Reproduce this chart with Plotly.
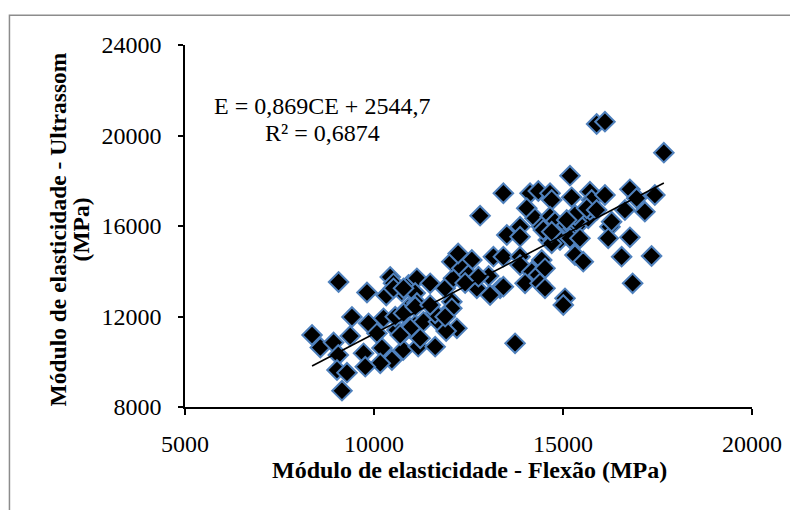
import plotly.graph_objects as go

# Flexural modulus (MPa)
flexao = [
    8361, 8580, 8931, 9372, 9063, 9814, 10324, 10429, 10516, 10913,
    11135, 11486, 10738, 11090, 9417, 9856, 10252, 10606, 10905, 11135,
    10078, 10773, 11090, 9055, 9724, 10210, 10773, 11169, 10474, 10165,
    9769, 9021, 9285, 9153, 11618, 11222, 10958, 12192, 11309, 11705,
    10561, 10781, 11618, 11090, 11486, 12059, 10516, 10781, 11882, 12102,
    12720, 13336, 13071, 12059, 12588, 13159, 12324, 12498, 10694, 13732,
    11909, 12411, 12226, 13032, 13423, 13423, 14128, 14347, 14657, 14701,
    14041, 12807, 14260, 14657, 14789, 14437, 15098, 15272, 15449, 15668,
    13864, 13513, 13864, 14612, 14921, 15185, 15449, 14701, 13864, 13864,
    14437, 15317, 15536, 12762, 14173, 14347, 14524, 13996, 14392, 13423,
    16242, 16197, 16770, 16551, 17343, 16842, 15053, 15008, 14524, 14480,
    14701, 15362, 15317, 15713, 15890, 16110, 17668, 15185, 15230, 15713,
    15758, 16110, 15626, 15890, 15098, 16770, 16947, 17430, 16638, 17166,
    16286, 12059, 11882,
]
# Ultrasound modulus (MPa)
ultrassom = [
    11182, 10630, 10851, 11138, 13525, 13061, 12928, 13746, 13468, 13392,
    13689, 13468, 13096, 13039, 11978, 11700, 11921, 11403, 12376, 12597,
    11258, 11271, 11624, 10298, 10374, 10608, 10519, 10665, 10077, 9932,
    9781, 9635, 9516, 8720, 10665, 11037, 11479, 11479, 11770, 11770,
    11991, 12142, 12142, 12433, 12508, 12654, 13247, 13247, 13247, 13689,
    13247, 13247, 12950, 14422, 14497, 14643, 14131, 13834, 11182, 10816,
    11359, 13481, 14785, 13790, 14643, 17446, 17446, 17547, 17446, 17149,
    16783, 16455, 16341, 16411, 16190, 15969, 16044, 15899, 16120, 16341,
    15969, 15602, 15527, 15381, 15381, 15457, 15457, 15236, 14643, 14276,
    14497, 14718, 14422, 13759, 13980, 13834, 14131, 13468, 13468, 13317,
    15969, 15457, 15501, 14643, 14674, 13468, 12805, 12508, 13247, 15823,
    15748, 16190, 16486, 16707, 20509, 20611, 19240, 18224, 17269, 17516,
    17149, 17370, 16783, 16707, 16265, 17622, 17225, 17370, 16707, 16632,
    16190, 12363, 11991,
]

# Regression reported on the chart
slope = 0.869
intercept = 2544.7
eq_line1 = "E = 0,869CE + 2544,7"
eq_line2 = "R² = 0,6874"

x_title = "Módulo de elasticidade - Flexão (MPa)"
y_title_1 = "Módulo de elasticidade - Ultrassom"
y_title_2 = "(MPa)"

x_ticks = [5000, 10000, 15000, 20000]
y_ticks = [8000, 12000, 16000, 20000, 24000]

# page has an 8px body margin: figure coords = screen coords - 8
OFF = 8
W, H = 790, 502
L, R, T, B = 176.5, 45.7, 37, 102.5
PW, PH = W - L - R, H - T - B


def px(xs):
    return (xs - OFF - L) / PW


def py(ys):
    return (H - B - (ys - OFF)) / PH


FONT = "Liberation Serif"
FS = 24

xmin, xmax = min(flexao), max(flexao)

fig = go.Figure()
fig.add_trace(go.Scatter(
    x=flexao, y=ultrassom, mode="markers",
    marker=dict(symbol="diamond", size=15, color="black",
                line=dict(color="#4F81BD", width=2)),
    showlegend=False, hoverinfo="skip",
))
fig.add_trace(go.Scatter(
    x=[xmin, xmax], y=[slope * xmin + intercept, slope * xmax + intercept],
    mode="lines", line=dict(color="black", width=1.6),
    showlegend=False, hoverinfo="skip",
))

axis_common = dict(
    showgrid=False, zeroline=False, showline=True, linecolor="black",
    ticks="outside", tickcolor="black", tickformat="d",
    tickfont=dict(family=FONT, size=FS, color="black"),
)
fig.update_xaxes(range=[5000, 20000], tickvals=x_ticks, linewidth=2,
                 ticklen=6, tickwidth=1.5, ticklabelstandoff=8, **axis_common)
fig.update_yaxes(range=[8000, 24000], tickvals=y_ticks, linewidth=1.5,
                 ticklen=5, tickwidth=1.5, ticklabelstandoff=12, **axis_common)


def label(text, xs, ys, angle=0, size=FS):
    return dict(text=text, x=px(xs), y=py(ys), xref="paper", yref="paper",
                showarrow=False, xanchor="center", yanchor="middle",
                textangle=angle, font=dict(family=FONT, size=size, color="black"))


ann = [
    label(eq_line1, 322, 106),
    label(eq_line2, 322, 133),
    label("<b>" + x_title + "</b>", 469.5, 471),
    label("<b>" + y_title_1 + "</b>", 57, 230, -90, 23.5),
    label("<b>" + y_title_2 + "</b>", 80, 230, -90, 23.5),
]

shapes = [dict(type="rect", xref="paper", yref="paper",
               x0=px(8.7), y0=py(530), x1=px(830), y1=py(15.3),
               line=dict(color="#8c8c8c", width=1.5), fillcolor="rgba(0,0,0,0)",
               layer="below")]

fig.update_layout(
    width=W, height=H, margin=dict(l=L, r=R, t=T, b=B, autoexpand=False),
    paper_bgcolor="white", plot_bgcolor="white",
    annotations=ann, shapes=shapes,
)

fig.write_html("out.html")
